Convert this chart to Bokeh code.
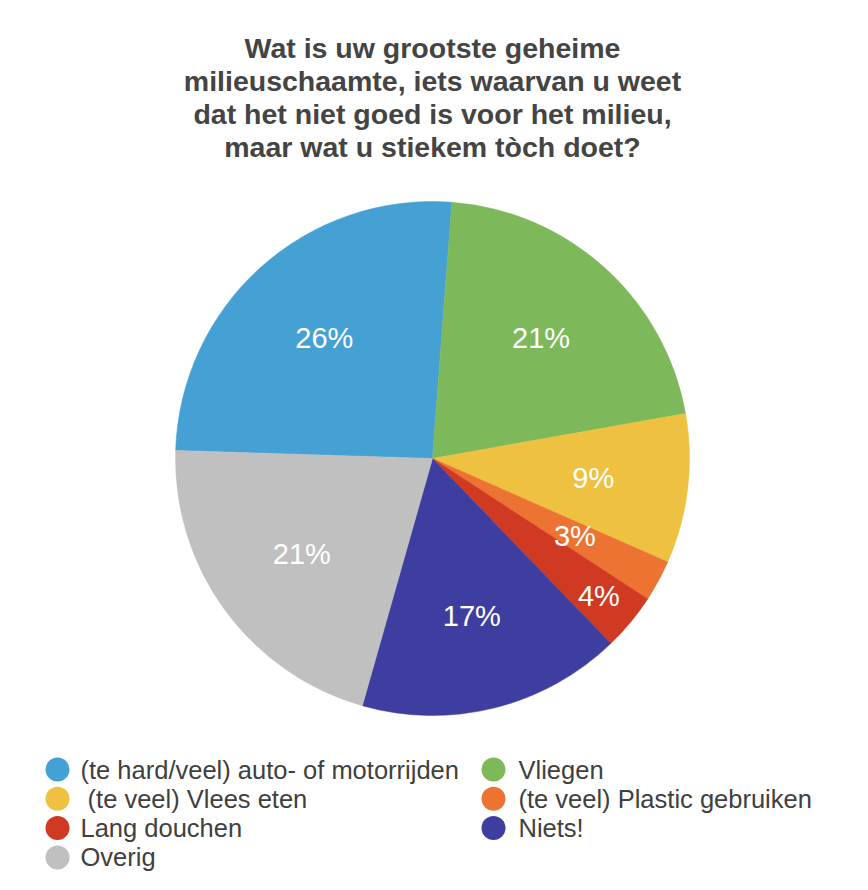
import math

from bokeh.core.properties import value
from bokeh.embed import file_html
from bokeh.models import ColumnDataSource, Range1d
from bokeh.plotting import figure
from bokeh.resources import INLINE

# Data
title_lines = [
    "Wat is uw grootste geheime",
    "milieuschaamte, iets waarvan u weet",
    "dat het niet goed is voor het milieu,",
    "maar wat u stiekem tòch doet?",
]
categories = [
    "(te hard/veel) auto- of motorrijden",
    "Vliegen",
    "\u00a0(te veel) Vlees eten",
    "(te veel) Plastic gebruiken",
    "Lang douchen",
    "Niets!",
    "Overig",
]
shares = [25.7, 21.0, 9.4, 2.6, 3.6, 16.6, 21.1]
colors = ["#45A1D4", "#7DB95A", "#EFC141", "#EC7331", "#D03A22", "#3E3EA0", "#C0C0C0"]

# Layout (pixels from top-left of the canvas)
W, H = 860, 882
CX, CY, R = 432, 458, 257
START = 271.8  # degrees clockwise from 12 o'clock where the first slice begins
LABEL_R = 0.63
label_push = {4: 0.84}
FONT = "Liberation Sans"


def flip(y):
    return H - y


p = figure(width=W, height=H, x_range=Range1d(0, W), y_range=Range1d(0, H),
           output_backend="svg", toolbar_location=None, min_border=0)
p.axis.visible = False
p.grid.visible = False
p.outline_line_color = None
p.background_fill_color = "white"

# Wedges
total = sum(shares)
starts, ends, lx, ly, labels = [], [], [], [], []
theta = START
for i, s in enumerate(shares):
    sweep = s / total * 360.0
    a0 = math.radians(90 - theta)
    a1 = math.radians(90 - theta - sweep)
    starts.append(a0)
    ends.append(a1)
    mid = (a0 + a1) / 2
    rr = R * label_push.get(i, LABEL_R)
    lx.append(CX + rr * math.cos(mid))
    ly.append(flip(CY) + rr * math.sin(mid))
    labels.append(f"{round(s)}%")
    theta += sweep

src = ColumnDataSource(dict(start=starts, end=ends, color=colors,
                            lx=lx, ly=ly, label=labels))
p.wedge(x=CX, y=flip(CY), radius=R, start_angle="start", end_angle="end",
        direction="clock", fill_color="color", line_color="color", line_width=0.5,
        source=src)
p.text(x="lx", y="ly", text="label", source=src, text_color="white",
       text_font=value(FONT), text_font_size="29px",
       text_align="center", text_baseline="middle")

# Title
p.text(x=[CX] * len(title_lines), y=[flip(47 + 33 * i) for i in range(len(title_lines))],
       text=title_lines, text_color="#444444", text_font=value(FONT),
       text_font_size="28.5px", text_font_style="bold",
       text_align="center", text_baseline="middle")

# Legend, two columns filled row by row
col_dot = [57, 493]
col_txt = [80, 518]
rows_y = [769 + 29.3 * (i // 2) for i in range(len(categories))]
p.scatter(x=[col_dot[i % 2] for i in range(len(categories))],
          y=[flip(y) for y in rows_y], size=24, marker="circle",
          fill_color=colors, line_color=None)
p.text(x=[col_txt[i % 2] for i in range(len(categories))],
       y=[flip(y) for y in rows_y], text=categories, text_color="#404040",
       text_font=value(FONT), text_font_size="25.5px",
       text_align="left", text_baseline="middle")

open("out.html", "w").write(file_html(p, INLINE))
